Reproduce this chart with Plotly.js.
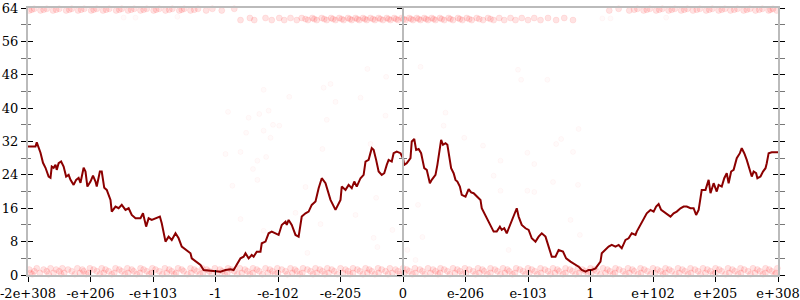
<!DOCTYPE html>
<html><head><meta charset="utf-8">
<script src="https://cdn.plot.ly/plotly-3.0.1.min.js"></script>
<style>html,body{margin:0;padding:0;background:#fff}#chart{width:800px;height:300px}</style>
</head><body><div id="chart"></div>
<script>
// Axis categories (position index -> label)
const xTickVals = [0,1,2,3,4,5,6,7,8,9,10,11,12];
const xTickText = ['-2e+308','-e+206','-e+103','-1','-e-102','-e-205','0','e-206','e-103','1','e+102','e+205','e+308'];
const yTickVals = [0,8,16,24,32,40,48,56,64];
const yMinorVals = [4,12,20,28,36,44,52,60];

// Main dark red series
const lineX = [0,0.12,0.14,0.2,0.24,0.28,0.33,0.36,0.38,0.41,0.44,0.46,0.49,0.53,0.57,0.61,0.65,0.68,0.73,0.77,0.81,0.84,0.89,0.92,0.95,1.0,1.04,1.08,1.1,1.15,1.18,1.22,1.26,1.32,1.34,1.4,1.45,1.5,1.56,1.61,1.66,1.72,1.8,1.84,1.89,1.93,1.98,2.04,2.11,2.14,2.2,2.25,2.3,2.36,2.41,2.46,2.54,2.6,2.62,2.7,2.76,2.81,2.92,3.0,3.08,3.16,3.24,3.29,3.32,3.37,3.4,3.45,3.48,3.53,3.58,3.61,3.66,3.72,3.74,3.8,3.85,3.9,3.96,4.01,4.06,4.12,4.14,4.17,4.22,4.28,4.33,4.38,4.44,4.49,4.54,4.6,4.65,4.7,4.76,4.81,4.84,4.92,5.0,5.02,5.08,5.13,5.18,5.22,5.26,5.32,5.37,5.4,5.45,5.5,5.53,5.57,5.61,5.66,5.7,5.74,5.77,5.82,5.85,5.9,5.96,
  6.0,6.02,6.06,6.12,6.14,6.18,6.21,6.25,6.29,6.32,6.34,6.38,6.43,6.46,6.52,6.55,6.59,6.61,6.64,6.68,6.71,6.75,6.77,6.81,6.84,6.87,6.91,6.94,7.0,7.05,7.09,7.13,7.18,7.24,7.26,7.34,7.4,7.45,7.5,7.55,7.58,7.62,7.66,7.72,7.77,7.82,7.85,7.9,7.96,8.01,8.06,8.12,8.17,8.22,8.28,8.33,8.38,8.44,8.49,8.56,8.61,8.68,8.73,8.81,8.86,8.92,8.97,9.02,9.08,9.16,9.18,9.24,9.29,9.34,9.4,9.45,9.5,9.56,9.61,9.66,9.72,9.74,9.8,9.85,9.9,9.96,10.01,10.05,10.09,10.13,10.17,10.22,10.28,10.33,10.38,10.44,10.49,10.54,10.6,10.65,10.69,10.73,10.76,10.78,10.84,10.89,10.92,10.97,11.02,11.05,11.1,11.14,11.18,11.21,11.25,11.29,11.34,11.39,11.42,11.46,11.5,11.55,11.58,11.61,11.65,11.67,11.72,11.76,11.8,11.82,11.85,11.9,12.0];
const lineY = [30.8,30.8,31.8,29.3,26.9,25.7,23.6,23.3,26,25.7,26.4,25.2,26.8,27.2,26,23.6,24,22.8,21.6,22.8,23.3,22.1,25.7,24.8,21.2,22.4,23.8,22.4,21.2,24.8,24.8,20.9,20.4,18,15.2,16.4,16,16.8,15.6,16,14.4,13.6,13.6,14.8,11.6,13.6,13.2,13.6,14,12.4,8,9.2,8.4,10,8.8,6.8,6,5.2,4,3.2,2.4,1.2,1.0,0.8,0.8,1.2,1.4,1.2,2,3.2,4,4.4,5.2,4,4.8,4.4,5.6,5.6,7.6,8,10,10.4,10,9.6,12,12.8,12,13.2,12,9.6,9.2,14,14.8,15.2,16.8,17.6,20.8,23.2,22,19.6,18,15.6,18,21.2,20.4,21.6,20.8,22.4,21.2,23.2,24,27.2,27.6,30.4,30,27.6,24.8,24,24.4,26.4,27.6,27.2,29.2,29.6,29.2,
  28,26.4,26.8,28,32,32.6,30,30.2,29.2,27.2,25.6,25.2,22,22.8,24,26.4,31.2,32.4,31.2,31.6,31.2,28,25.6,24.4,22.8,22.4,21.2,19.2,18.8,20.6,19.8,19.6,18.8,18,16,13.6,11.6,10.4,10.4,11.6,10.8,11.2,10,12.4,14,16,14,12,11.2,10.8,8.8,8,9.2,10,9.2,6.8,4.4,4.4,6,5.6,4,3.2,2.8,2,1.2,0.8,1.2,1.2,1.6,3.2,5.2,6,6.8,7.2,6.8,7.2,6.4,8.4,8.8,10,9.6,10.4,12,13.2,14.8,15.6,15.2,16.4,17,15.6,15.2,14.8,14,14.8,15.2,16,16.4,16.4,16,16,14.4,15.6,18,20.4,20.4,22.8,19.6,22,20,21.6,21.2,23.2,24.4,22,24.8,25.2,28,29.2,30.4,29.2,27.6,25.2,23.6,24.8,24.4,23.2,23.6,24.8,25.6,26.8,29.2,29.4,29.4];

// Faint scatter bands (rows of points)
const lowRowAY = 0.5, lowRowBY = 0.9, lowRowCY = 1.3, lowRowDY = 0.2, lowRowEY = 1.6;
const lowRowAX = [0.04,0.19,0.41,0.58,0.83,0.97,1.21,1.38,1.6,1.79,1.98,2.22,2.37,2.61,2.8,3.03,3.19,3.42,3.6,3.84,4.0,4.23,4.39,4.62,4.81,5.04,5.2,5.43,5.61,5.83,6.02,6.2,6.44,6.59,6.83,7.01,7.22,7.4,7.63,7.79,8.02,8.21,8.43,8.6,8.82,9.01,9.24,9.39,9.62,9.81,10.03,10.2,10.42,10.61,10.84,11.0,11.22,11.41,11.63,11.8,11.97];
const lowRowBX = [0.1,0.3,0.5,0.7,0.89,1.1,1.29,1.5,1.69,1.9,2.1,2.3,2.49,2.7,2.9,3.11,3.3,3.51,3.7,3.91,4.12,4.3,4.52,4.71,4.9,5.12,5.31,5.5,5.72,5.92,6.1,6.31,6.52,6.71,6.91,7.12,7.3,7.51,7.7,7.92,8.11,8.32,8.5,8.71,8.92,9.1,9.31,9.52,9.7,9.91,10.12,10.3,10.51,10.72,10.92,11.1,11.31,11.52,11.71,11.9];
const lowRowCX = [0.02,0.25,0.45,0.64,0.87,1.05,1.24,1.46,1.66,1.85,2.04,2.26,2.46,2.66,2.86,3.07,3.25,3.47,3.66,3.87,4.06,4.27,4.47,4.67,4.86,5.08,5.27,5.46,5.66,5.88,6.06,6.27,6.48,6.66,6.87,7.06,7.27,7.47,7.67,7.87,8.06,8.27,8.47,8.67,8.87,9.06,9.27,9.46,9.67,9.86,10.07,10.26,10.47,10.67,10.87,11.06,11.27,11.46,11.67,11.86];
const lowRowDX = [0.07,0.33,0.53,0.75,0.93,1.15,1.34,1.55,1.74,1.94,2.15,2.34,2.55,2.75,2.94,3.15,3.35,3.55,3.75,3.95,4.15,4.35,4.56,4.75,4.95,5.15,5.36,5.55,5.76,5.95,6.15,6.35,6.56,6.75,6.95,7.16,7.35,7.56,7.75,7.96,8.15,8.36,8.56,8.76,8.96,9.16,9.36,9.56,9.76,9.96,10.16,10.36,10.56,10.76,10.96,11.16,11.36,11.56,11.76,11.95];
const lowRowEX = [0.14,0.36,0.55,0.79,0.99,1.18,1.4,1.59,1.8,1.99,2.19,2.4,2.6,2.79,2.99,3.2,3.39,3.6,3.8,3.99,4.2,4.4,4.6,4.79,5.0,5.2,5.4,5.6,5.79,6.0,6.19,6.4,6.6,6.8,6.99,7.2,7.4,7.6,7.81,8.0,8.2,8.4,8.6,8.8,9.0,9.2,9.4,9.6,9.8,10.0,10.2,10.4,10.6,10.8,11.0,11.2,11.4,11.6,11.8,11.99];
const topRowAY = 63.4, topRowBY = 63.8, topRowCY = 63.6;
const topRowAX = [0.02,0.2,0.4,0.61,0.8,1.01,1.2,1.41,1.6,1.8,2.01,2.2,2.42,2.6,2.85,3.1,9.3,9.62,9.85,10.05,10.25,10.45,10.64,10.85,11.05,11.24,11.45,11.64,11.85,11.98];
const topRowBX = [0.1,0.3,0.5,0.7,0.9,1.1,1.3,1.5,1.7,1.9,2.1,2.31,2.5,2.72,2.95,3.3,9.45,9.75,9.95,10.15,10.35,10.55,10.75,10.95,11.15,11.35,11.55,11.75,11.92];
const topRowCX = [0.06,0.25,0.45,0.66,0.85,1.05,1.25,1.46,1.65,1.85,2.05,2.26,2.46,2.66,9.7,9.9,10.1,10.3,10.5,10.7,10.9,11.1,11.3,11.5,11.7,11.88];
const midRowAY = 61.1, midRowBY = 61.6, midRowCY = 61.35;
const midRowAX = [3.4,3.62,3.9,4.1,4.3,4.48,4.62,4.78,4.92,5.05,5.18,5.3,5.42,5.55,5.68,5.8,5.92,6.04,6.16,6.28,6.4,6.52,6.66,6.8,6.95,7.1,7.28,7.45,7.62,7.8,8.0,8.2,8.45,8.72];
const midRowBX = [3.55,3.8,4.02,4.2,4.38,4.55,4.7,4.85,4.98,5.12,5.24,5.36,5.48,5.61,5.74,5.86,5.98,6.1,6.22,6.34,6.46,6.59,6.73,6.88,7.02,7.18,7.36,7.54,7.72,7.9,8.1,8.32,8.58];
const midRowCX = [4.44,4.58,4.74,4.88,5.02,5.15,5.27,5.39,5.52,5.64,5.77,5.89,6.01,6.13,6.25,6.37,6.49,6.62,6.76,6.91,7.06,7.22,7.4];
// Isolated faint points
const strayX = [1.53,1.72,2.39,9.19,9.32,10.21,3.77,4.18,4.73,4.84,5.32,5.43,5.73,6.28,7.84,7.89,8.31,3.2,3.53,3.7,3.85,3.92,4.02,3.49,3.77,3.88,3.16,3.4,3.67,3.81,3.6,3.67,3.27,4.78,4.92,4.71,4.44,5.48,5.72,5.57,6.68,6.65,6.98,7.28,7.56,7.99,8.1,7.45,8.45,8.53,8.72,8.81,8.4,8.8,7.56,7.99,8.1,6.07,6.2,6.31,7.69,8.68,8.83,6.24,3.4,3.77,4.28,4.47,4.68,5.24,5.59,5.83,5.53];
const strayY = [61.7,61.7,61.9,61.5,61.5,61.7,44.4,42.7,44.9,45.8,42.5,49.4,47.5,49.9,49.2,46.8,46.8,39.1,37.7,38.6,39.4,36,35.8,34.1,34.6,32.9,29,29.5,27.4,28.3,25.4,22.8,21.4,37.2,41.5,30.2,21.1,31.4,38.2,18.5,38.9,35.8,32.9,31,27.4,29.3,26.6,23.8,31.4,32.6,29.5,35,22.3,21.6,20.2,20.2,19.9,6,3.6,9.1,6,13.2,9.6,16.8,13.4,10.6,14.9,5.3,12.2,14.4,6.7,10.8,8.9];

const bandMarker = {size: 6, color: 'rgba(255,0,0,0.11)', line: {width: 0.6, color:'rgba(255,0,0,0.13)'}};
function row(xs, yv) {
  return {type:'scatter', mode:'markers', x: xs, y: xs.map(() => yv), marker: bandMarker, hoverinfo:'skip', cliponaxis:false};
}
const traces = [
  row(lowRowDX, lowRowDY), row(lowRowAX, lowRowAY), row(lowRowBX, lowRowBY), row(lowRowCX, lowRowCY), row(lowRowEX, lowRowEY),
  row(topRowAX, topRowAY), row(topRowBX, topRowBY), row(topRowCX, topRowCY),
  row(midRowAX, midRowAY), row(midRowBX, midRowBY), row(midRowCX, midRowCY),
  {type:'scatter', mode:'markers', x: strayX, y: strayY, hoverinfo:'skip',
   marker:{size:5, color:'rgba(255,0,0,0.02)', line:{width:0.8, color:'rgba(255,0,0,0.045)'}}},
  {type:'scatter', mode:'lines', x: lineX, y: lineY, hoverinfo:'skip',
   line:{color:'#8b0000', width:2}},
  // helper empty traces so the overlay axes exist
  {type:'scatter', x:[null], y:[null], xaxis:'x2', yaxis:'y', hoverinfo:'skip'},
  {type:'scatter', x:[null], y:[null], xaxis:'x', yaxis:'y2', hoverinfo:'skip'},
  {type:'scatter', x:[null], y:[null], xaxis:'x', yaxis:'y3', hoverinfo:'skip'},
  {type:'scatter', x:[null], y:[null], xaxis:'x', yaxis:'y4', hoverinfo:'skip'}
];

const axLine = '#bbbbbb';
const yBase = {
  range:[0,64], tickmode:'array', tickvals:yTickVals, ticklen:5, tickcolor:'#000', tickwidth:1,
  showgrid:false, zeroline:false, showline:true, linecolor:axLine, linewidth:2
};
const layout = {
  width:800, height:300, showlegend:false,
  margin:{l:28, r:22, t:8, b:25, pad:0},
  paper_bgcolor:'#fff', plot_bgcolor:'#fff',
  font:{family:'DejaVu Serif, serif', size:13, color:'#000'},
  xaxis:{range:[0,12], tickmode:'array', tickvals:xTickVals, ticktext:xTickText,
    ticks:'outside', ticklen:5, tickcolor:'#000', tickwidth:1, ticklabeloverflow:'allow',
    showline:true, linecolor:axLine, linewidth:2, mirror:true,
    showgrid:false, zeroline:false},
  xaxis2:{overlaying:'x', anchor:'y', range:[0,12], tickmode:'array', tickvals:xTickVals,
    ticks:'inside', ticklen:5, tickcolor:'#000', tickwidth:1, showticklabels:false,
    showline:false, showgrid:false, zeroline:false},
  yaxis:Object.assign({}, yBase, {ticks:'outside', mirror:'allticks',
    minor:{tickmode:'array', tickvals:yMinorVals, ticks:'outside', ticklen:3, tickcolor:'#777', tickwidth:1}}),
  yaxis2:Object.assign({}, yBase, {overlaying:'y', side:'left', ticks:'inside', mirror:'allticks', showticklabels:false,
    minor:{tickmode:'array', tickvals:yMinorVals, ticks:'inside', ticklen:3, tickcolor:'#777', tickwidth:1}}),
  yaxis3:Object.assign({}, yBase, {overlaying:'y', anchor:'free', position:0.5, side:'left', ticks:'outside', showticklabels:false,
    minor:{tickmode:'array', tickvals:yMinorVals, ticks:'outside', ticklen:3, tickcolor:'#777', tickwidth:1}}),
  yaxis4:Object.assign({}, yBase, {overlaying:'y', anchor:'free', position:0.5, side:'left', ticks:'inside', showticklabels:false,
    minor:{tickmode:'array', tickvals:yMinorVals, ticks:'inside', ticklen:3, tickcolor:'#777', tickwidth:1}})
};
Plotly.newPlot('chart', traces, layout, {staticPlot:true, displayModeBar:false});
</script>
</body></html>
